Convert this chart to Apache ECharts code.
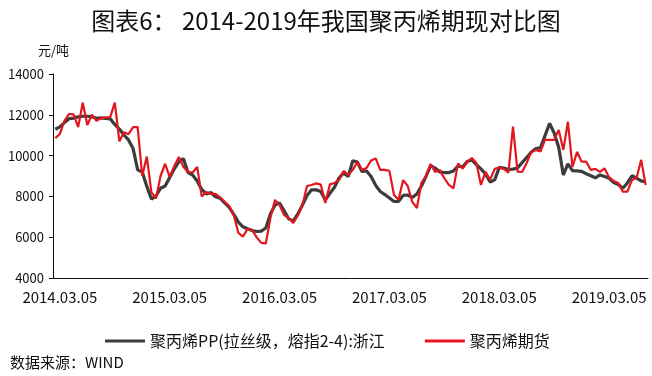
<!DOCTYPE html>
<html>
<head>
<meta charset="utf-8">
<script src="https://cdn.jsdelivr.net/npm/echarts@6/dist/echarts.min.js"></script>
<style>
  html, body { margin: 0; padding: 0; background: #fff; }
  #chart { width: 652px; height: 376px; }
</style>
</head>
<body>
<div id="chart"></div>
<script>
// semi-monthly dates, index 1 = 2014.03.05
const dates = []
for (let y = 2014, m = 2, d = 20; dates.length < 130; ) {
    dates.push(y + '.' + String(m).padStart(2, '0') + '.' + String(d).padStart(2, '0'))
    if (d === 5) { d = 20 } else { d = 5; m++; if (m > 12) { m = 1; y++ } }
}

// 聚丙烯PP(拉丝级，熔指2-4):浙江
const spotPP = [11290, 11410, 11620, 11810, 11840, 11900, 11930, 11930, 11910, 11830,
    11850, 11820, 11800, 11530, 11300, 11010, 10770, 10350, 9300, 9200,
    8490, 7870, 8020, 8400, 8510, 8930, 9350, 9690, 9850, 9170,
    9050, 8760, 8340, 8120, 8190, 7980, 7910, 7680, 7460, 7120,
    6740, 6510, 6410, 6330, 6280, 6300, 6450, 7140, 7580, 7680,
    7290, 6900, 6800, 7140, 7580, 8040, 8320, 8320, 8240, 7830,
    8150, 8450, 8900, 9150, 8970, 9750, 9690, 9220, 9250, 8980,
    8540, 8240, 8090, 7920, 7750, 7750, 8050, 8070, 7950, 8120,
    8510, 8980, 9510, 9390, 9200, 9170, 9170, 9250, 9490, 9440,
    9710, 9790, 9560, 9350, 9100, 8710, 8810, 9420, 9390, 9320,
    9340, 9390, 9660, 9910, 10180, 10340, 10380, 10980, 11580, 11110,
    10400, 9050, 9590, 9260, 9250, 9230, 9110, 9010, 8910, 9050,
    8970, 8890, 8680, 8580, 8400, 8660, 9010, 8900, 8760, 8710]

// 聚丙烯期货
const futuresPP = [10860, 11060, 11700, 12040, 12020, 11400, 12590, 11500, 12010, 11700,
    11840, 11870, 11890, 12600, 10700, 11150, 11050, 11400, 11400, 9000,
    9950, 8200, 7900, 9000, 9600, 8950, 9490, 9930, 9440, 9200,
    9170, 9440, 8000, 8220, 8120, 8120, 7950, 7740, 7530, 7090,
    6210, 6030, 6410, 6360, 5990, 5720, 5700, 6940, 7830, 7580,
    7090, 6940, 6700, 7070, 7580, 8510, 8560, 8640, 8580, 7680,
    8590, 8660, 8810, 9250, 9050, 9300, 9690, 9300, 9390, 9760,
    9860, 9300, 9300, 9250, 8070, 7830, 8800, 8510, 7730, 7430,
    8660, 9000, 9590, 9200, 9300, 8890, 8560, 8400, 9620, 9360,
    9690, 9880, 9640, 8560, 9200, 8810, 9350, 9420, 9350, 9170,
    11420, 9210, 9200, 9640, 10180, 10280, 10200, 10770, 10770, 10770,
    11260, 10280, 11660, 9440, 10180, 9700, 9700, 9300, 9350, 9200,
    9380, 8930, 8760, 8660, 8230, 8230, 8810, 8900, 9790, 8560]

const seriesNames = ['聚丙烯PP(拉丝级，熔指2-4):浙江', '聚丙烯期货']
const font = '"Noto Sans CJK SC", "Noto Sans", sans-serif'
const showYear = (i) => i % 24 === 1

let myCharts = echarts.init(document.getElementById('chart'))
myCharts.setOption({
    animation: false,
    textStyle: { fontFamily: font, color: '#111' },
    title: [
        { text: '图表6： 2014-2019年我国聚丙烯期现对比图', left: 'center', top: 4,
          textStyle: { fontSize: 24, fontWeight: 'normal', color: '#111', fontFamily: font } },
        { text: '元/吨', left: 33, top: 39,
          textStyle: { fontSize: 13, fontWeight: 'normal', color: '#111', fontFamily: font } },
        { text: '数据来源：WIND', left: 5, top: 350,
          textStyle: { fontSize: 15, fontWeight: 'normal', color: '#111', fontFamily: font } }
    ],
    legend: {
        data: seriesNames,
        left: 100,
        top: 328,
        itemWidth: 40,
        itemHeight: 3,
        itemGap: 40,
        icon: 'rect',
        textStyle: { fontSize: 16, color: '#111', fontFamily: font }
    },
    grid: { left: 53, right: 4, top: 74, bottom: 98 },
    xAxis: {
        type: 'category',
        data: dates,
        boundaryGap: true,
        axisLine: { lineStyle: { color: '#111', width: 1 } },
        axisTick: { interval: (i) => showYear(i), length: 5, lineStyle: { color: '#111' } },
        axisLabel: { interval: (i) => showYear(i), fontSize: 15, color: '#111', margin: 12, fontFamily: font }
    },
    yAxis: {
        type: 'value',
        min: 4000,
        max: 14000,
        interval: 2000,
        splitLine: { show: false },
        axisLine: { show: true, lineStyle: { color: '#111', width: 1 } },
        axisTick: { show: true, length: 4, lineStyle: { color: '#111' } },
        axisLabel: { fontSize: 13, color: '#111', margin: 9, fontFamily: font,
                     formatter: (v) => String(v) }
    },
    series: [
        { name: seriesNames[0], type: 'line', data: spotPP, symbol: 'none',
          lineStyle: { color: '#3c3c3c', width: 3.2 }, itemStyle: { color: '#3c3c3c' } },
        { name: seriesNames[1], type: 'line', data: futuresPP, symbol: 'none',
          lineStyle: { color: '#e3161e', width: 2.2 }, itemStyle: { color: '#e3161e' } }
    ]
})
</script>
</body>
</html>
